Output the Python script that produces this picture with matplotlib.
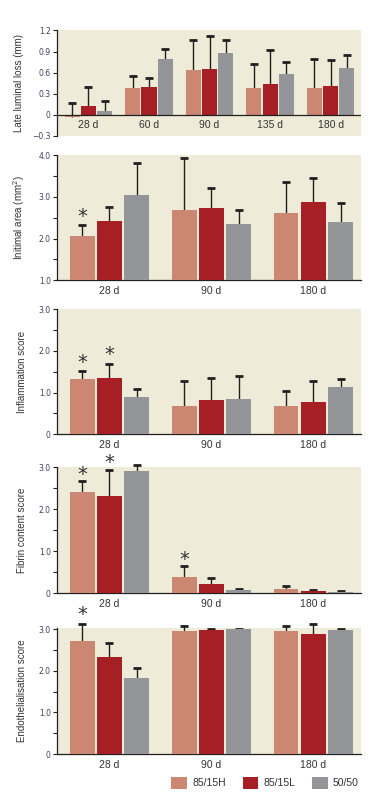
import numpy as np
import matplotlib
matplotlib.use("Agg")
import matplotlib.pyplot as plt
from matplotlib.patches import Patch

plt.rcParams['font.family'] = ['Liberation Sans', 'DejaVu Sans']

# colours
c_h = '#cb8772'
c_l = '#a61f25'
c_g = '#939598'
bg = '#eeebd8'
ink = '#231f20'
tickcol = '#3e4160'

series = ['85/15H', '85/15L', '50/50']

# panel 1 - late luminal loss
days1 = ['28 d', '60 d', '90 d', '135 d', '180 d']
lll_h = [-0.04, 0.376, 0.633, 0.376, 0.376]
lll_h_err = [0.167, 0.557, 1.06, 0.724, 0.79]
lll_l = [0.12, 0.39, 0.648, 0.433, 0.405]
lll_l_err = [0.40, 0.524, 1.124, 0.924, 0.78]
lll_g = [0.05, 0.79, 0.876, 0.576, 0.662]
lll_g_err = [0.195, 0.94, 1.067, 0.752, 0.852]

days = ['28 d', '90 d', '180 d']

# panel 2 - intimal area
ia_h = [2.064, 2.688, 2.616]
ia_h_err = [2.328, 3.936, 3.368]
ia_l = [2.424, 2.736, 2.88]
ia_l_err = [2.768, 3.208, 3.464]
ia_g = [3.048, 2.352, 2.40]
ia_g_err = [3.824, 2.696, 2.864]

# panel 3 - inflammation
inf_h = [1.325, 0.678, 0.678]
inf_h_err = [1.524, 1.285, 1.045]
inf_l = [1.349, 0.822, 0.774]
inf_l_err = [1.69, 1.357, 1.285]
inf_g = [0.894, 0.846, 1.133]
inf_g_err = [1.077, 1.405, 1.333]

# panel 4 - fibrin
fib_h = [2.406, 0.385, 0.096]
fib_h_err = [2.68, 0.634, 0.176]
fib_l = [2.31, 0.217, 0.048]
fib_l_err = [2.927, 0.369, 0.08]
fib_g = [2.91, 0.072, 0.024]
fib_g_err = [3.06, 0.104, 0.056]

# panel 5 - endothelialisation
end_h = [2.72, 2.96, 2.96]
end_h_err = [3.14, 3.09, 3.09]
end_l = [2.326, 2.983, 2.887]
end_l_err = [2.68, 3.015, 3.127]
end_g = [1.83, 3.008, 2.983]
end_g_err = [2.07, 3.015, 3.015]

W, H = 392, 805
fig = plt.figure(figsize=(W / 100, H / 100), dpi=100)


def make_ax(top, bottom):
    ax = fig.add_axes([57 / W, 1 - bottom / H, 304 / W, (bottom - top) / H])
    ax.set_facecolor(bg)
    for s in ['top', 'right']:
        ax.spines[s].set_visible(False)
    for s in ['left', 'bottom']:
        ax.spines[s].set_color(ink)
        ax.spines[s].set_linewidth(0.9)
    ax.tick_params(axis='y', which='both', direction='out', length=3, width=0.8,
                   color=ink, labelsize=5.5, labelcolor=tickcol, pad=1.5)
    ax.tick_params(axis='x', length=0, labelsize=7.5, labelcolor='#333333', pad=4)
    return ax


def draw_bars(ax, vals, errs, off, w):
    x = np.arange(len(vals[0]))
    for v, e, o, c in zip(vals, errs, off, [c_h, c_l, c_g]):
        ax.vlines(x + o, v, e, color=ink, lw=1.0, zorder=2, clip_on=False)
        ax.plot(x + o, e, ls='none', marker='_', ms=5.5, mew=2.0, color=ink,
                zorder=3, clip_on=False)
        ax.bar(x + o, v, width=w, color=c, zorder=4)
    return x


def star(ax, x, y):
    ax.text(x, y, '*', ha='center', va='center', fontsize=14, color='#333333',
            family='DejaVu Sans', clip_on=False)


# ---- panel 1
ax1 = make_ax(30.5, 135.7)
x1 = draw_bars(ax1, [lll_h, lll_l, lll_g], [lll_h_err, lll_l_err, lll_g_err],
               [-0.27, 0.0, 0.265], 0.25)
ax1.set_xlim(-0.52, 4.5)
ax1.set_ylim(-0.3, 1.2)
ax1.spines['bottom'].set_visible(False)
ax1.axhline(0, color=ink, lw=0.9, zorder=5)
ax1.set_yticks([-0.3, 0, 0.3, 0.6, 0.9, 1.2])
ax1.set_yticklabels(['\u22120.3', '0', '0.3', '0.6', '0.9', '1.2'],
                    family=['Liberation Sans Narrow', 'DejaVu Sans'])
ax1.set_xticks([])
for xi, d in zip(x1, days1):
    ax1.text(xi, -0.152, d, ha='center', va='center', fontsize=7.5, color='#333333')
ax1.set_ylabel('Late luminal loss (mm)', fontsize=7, color='#333333')
ax1.yaxis.set_label_coords(-0.107, 0.5)

# ---- panels 2-5
specs = [
    (155.3, 280.3, (1.0, 4.0), [ia_h, ia_l, ia_g], [ia_h_err, ia_l_err, ia_g_err],
     'Initimal area (mm$^2$)', [1, 2, 3, 4], ['1.0', '2.0', '3.0', '4.0']),
    (309.0, 434.3, (0, 3.0), [inf_h, inf_l, inf_g], [inf_h_err, inf_l_err, inf_g_err],
     'Inflammation score', [0, 1, 2, 3], ['0', '1.0', '2.0', '3.0']),
    (467.0, 593.0, (0, 3.01), [fib_h, fib_l, fib_g], [fib_h_err, fib_l_err, fib_g_err],
     'Fibrin content score', [0, 1, 2, 3], ['0', '1.0', '2.0', '3.0']),
    (628.3, 754.0, (0, 3.025), [end_h, end_l, end_g], [end_h_err, end_l_err, end_g_err],
     'Endothelialisation score', [0, 1, 2, 3], ['0', '1.0', '2.0', '3.0']),
]
axes = [ax1]
for top, bot, yl, vals, errs, lab, yt, ytl in specs:
    ax = make_ax(top, bot)
    x = draw_bars(ax, vals, errs, [-0.265, 0.0, 0.268], 0.24)
    ax.set_xlim(-0.513, 2.468)
    ax.set_ylim(*yl)
    ax.set_yticks(yt)
    ax.set_yticklabels(ytl, family=['Liberation Sans Narrow', 'DejaVu Sans'])
    ax.set_yticks(np.arange(yt[0] + 0.5, yt[-1], 1.0), minor=True)
    ax.set_xticks(x)
    ax.set_xticklabels(days)
    ax.set_ylabel(lab, fontsize=7, color='#333333')
    ax.yaxis.set_label_coords(-0.1, 0.5)
    axes.append(ax)

# significance marks
star(axes[1], -0.265, 2.52)
star(axes[2], -0.265, 1.72)
star(axes[2], 0.0, 1.91)
star(axes[3], -0.265, 2.84)
star(axes[3], 0.0, 3.12)
star(axes[3], 0.735, 0.81)
star(axes[4], -0.265, 3.36)

handles = [Patch(facecolor=c, edgecolor='none') for c in [c_h, c_l, c_g]]
fig.legend(handles, series, loc='center', bbox_to_anchor=(265 / W, 1 - 783 / H),
           ncol=3, frameon=False, fontsize=7.5, handlelength=1.5, handleheight=1.5,
           handletextpad=0.5, columnspacing=1.6, labelcolor='#333333')

fig.savefig('out.png', dpi=100)
